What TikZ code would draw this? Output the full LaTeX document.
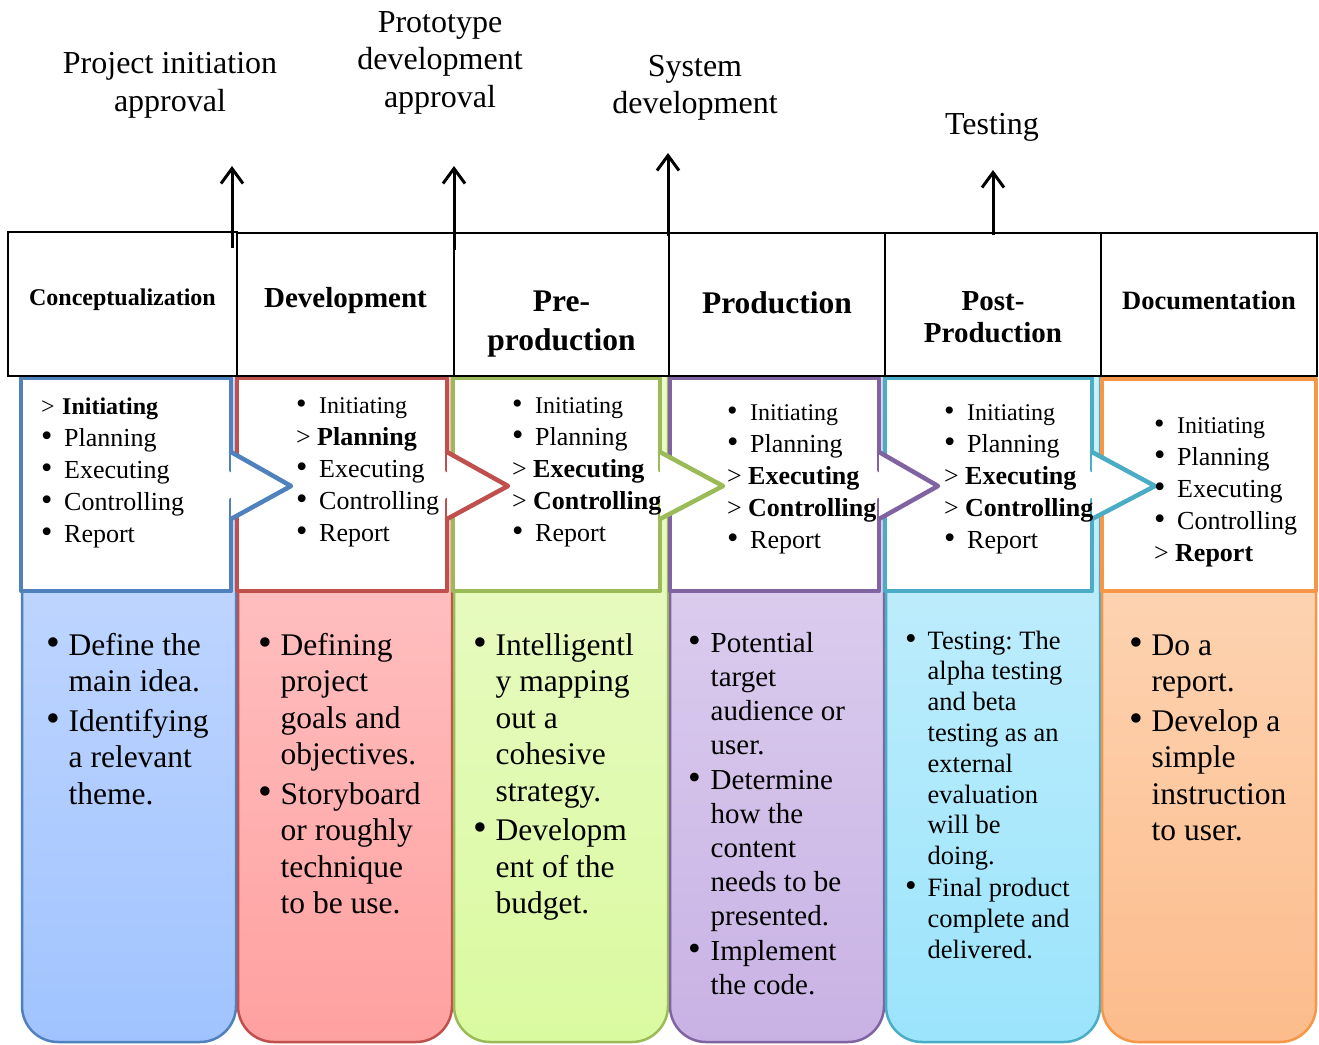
\documentclass[tikz,border=0pt]{standalone}
\usepackage{fontspec}
\setmainfont{Liberation Serif}
\usepackage{graphicx}
\usetikzlibrary{arrows.meta}

% phase colours: border, lane top, lane bottom
\definecolor{cblue}{RGB}{79,129,189}
\definecolor{cbluetop}{RGB}{204,221,255}
\definecolor{cbluebot}{RGB}{160,195,255}
\definecolor{cred}{RGB}{192,80,77}
\definecolor{credtop}{RGB}{255,205,205}
\definecolor{credbot}{RGB}{255,160,160}
\definecolor{cgreen}{RGB}{155,187,89}
\definecolor{cgreentop}{RGB}{236,250,206}
\definecolor{cgreenbot}{RGB}{218,250,160}
\definecolor{cpurple}{RGB}{128,100,162}
\definecolor{cpurpletop}{RGB}{228,216,242}
\definecolor{cpurplebot}{RGB}{200,178,228}
\definecolor{ccyan}{RGB}{75,172,198}
\definecolor{ccyantop}{RGB}{205,240,252}
\definecolor{ccyanbot}{RGB}{155,228,252}
\definecolor{corange}{RGB}{247,150,70}
\definecolor{corangetop}{RGB}{254,222,195}
\definecolor{corangebot}{RGB}{252,188,140}

\newcommand{\dotmark}{\scalebox{1.25}{\textbullet}}
\newcommand{\li}[1]{\makebox[23pt][l]{\dotmark}#1}
\newcommand{\lnow}[1]{\makebox[21pt][l]{>}\textbf{#1}}
\newcommand{\sml}[1]{{\fontsize{24}{32}\selectfont #1}}
\newcommand{\bul}{\makebox[22.5pt][l]{\dotmark}}
\newcommand{\cont}{\hspace*{22.5pt}}

\tikzset{
  lane/.style={line width=2.5pt, rounded corners=36pt},
  phase/.style={line width=4.5pt, fill=white, line cap=round, line join=round},
  head/.style={draw, fill=white, line width=1.2pt},
  % lists are placed by the baseline of their last line
  toplist/.style={align=left, anchor=base west, inner sep=0pt,
    font=\fontsize{26}{32}\selectfont},
  lanetext/.style={align=left, anchor=base west, inner sep=0pt,
    font=\fontsize{31.5}{36.5}\selectfont},
  title/.style={align=center, inner sep=0pt},
  milestone/.style={align=center, inner sep=0pt,
    font=\fontsize{32}{37.5}\selectfont},
  milearrow/.style={line width=3pt,
    -{Straight Barb[length=15pt,width=22pt]}}
}

\begin{document}
\begin{tikzpicture}[x=1pt, y=-1pt]
  \useasboundingbox (0,0) rectangle (1319,1044);
  \fill[white] (0,0) rectangle (1319,1044);

  % coloured lanes
  \foreach \xa/\xb/\col in {22/236/cblue, 238/452/cred, 454/668/cgreen,
      670/884/cpurple, 886/1100/ccyan, 1102/1316/corange}
    \draw[lane, draw=\col, top color=\col top, bottom color=\col bot]
      (\xa,370) -- (\xa,1042) -- (\xb,1042) -- (\xb,370);

  % phase boxes
  \foreach \xl/\xr/\col in {21/231/cblue, 237/447/cred, 453/660/cgreen,
      670/879/cpurple, 885/1092/ccyan}
    \draw[phase, draw=\col] (\xr,470) -- (\xr,378) -- (\xl,378)
      -- (\xl,591) -- (\xr,591) -- (\xr,500);
  \draw[phase, draw=corange] (1102,379) rectangle (1316,591);
  \foreach \xr/\tip/\col in {231/291/cblue, 447/508/cred, 660/723/cgreen,
      879/938/cpurple, 1092/1155/ccyan}
    \filldraw[phase, draw=\col] (\xr,452) -- (\tip,486) -- (\xr,519);

  % header cells
  \draw[head] (8,232) rectangle (237,376);
  \foreach \xa/\xb in {237/454, 454/669, 669/885, 885/1101, 1101/1317}
    \draw[head] (\xa,233) rectangle (\xb,376);

  \node[title, font=\bfseries\fontsize{24}{28}\selectfont] (t1) at (122.5,300) {Conceptualization};
  \node[title, font=\bfseries\fontsize{29}{34}\selectfont] (t2) at (345.5,301) {Development};
  \node[title, font=\bfseries\fontsize{31.5}{39}\selectfont] (t3) at (561.5,324) {Pre-\\production};
  \node[title, font=\bfseries\fontsize{31.5}{36}\selectfont] (t4) at (777,303) {Production};
  \node[title, font=\bfseries\fontsize{29}{32}\selectfont] (t5) at (993,317.5) {Post-\\Production};
  \node[title, font=\bfseries\fontsize{26.5}{31}\selectfont] (t6) at (1209,300) {Documentation};

  % milestones
  \foreach \x/\yb/\yt [count=\i] in {232/248/166, 454/250/166, 668/236/153, 993/235/170} {
    \coordinate (foot\i) at (\x,\yb);
    \coordinate (tip\i) at (\x,\yt);
    \draw[milearrow] (foot\i) -- (tip\i);
  }
  \node[milestone] (ms1) at (170,85.5) {Project initiation\\approval};
  \node[milestone] (ms2) at (440,62.5) {Prototype\\development\\approval};
  \node[milestone] (ms3) at (695,88) {System\\development};
  \node[milestone] (ms4) at (992,127) {Testing};

  % process groups per phase
  \node[toplist] (p1) at (41,542) {\sml{\lnow{Initiating}}\\ \li{Planning}\\
    \li{Executing}\\ \li{Controlling}\\ \li{Report}};
  \node[toplist] (p2) at (296,541) {\sml{\li{Initiating}}\\ \lnow{Planning}\\
    \li{Executing}\\ \li{Controlling}\\ \li{Report}};
  \node[toplist] (p3) at (512,541) {\sml{\li{Initiating}}\\ \li{Planning}\\
    \lnow{Executing}\\ \lnow{Controlling}\\ \li{Report}};
  \node[toplist] (p4) at (727,548) {\sml{\li{Initiating}}\\ \li{Planning}\\
    \lnow{Executing}\\ \lnow{Controlling}\\ \li{Report}};
  \node[toplist] (p5) at (944,548) {\sml{\li{Initiating}}\\ \li{Planning}\\
    \lnow{Executing}\\ \lnow{Controlling}\\ \li{Report}};
  \node[toplist] (p6) at (1154,561) {\sml{\li{Initiating}}\\ \li{Planning}\\
    \li{Executing}\\ \li{Controlling}\\ \lnow{Report}};

  % lane contents
  \node[lanetext] (d1) at (46,804) {\bul Define the\\ \cont main idea.\\[3pt]
    \bul Identifying\\ \cont a relevant\\ \cont theme.};
  \node[lanetext] (d2) at (258,913.5) {\bul Defining\\ \cont project\\ \cont goals and\\
    \cont objectives.\\[3pt] \bul Storyboard\\ \cont or roughly\\ \cont technique\\
    \cont to be use.};
  \node[lanetext] (d3) at (473,913.5) {\bul Intelligentl\\ \cont y mapping\\ \cont out a\\
    \cont cohesive\\ \cont strategy.\\[3pt] \bul Developm\\ \cont ent of the\\
    \cont budget.};
  \node[lanetext, font=\fontsize{29}{34}\selectfont] (d4) at (688,994) {\bul Potential\\
    \cont target\\ \cont audience or\\ \cont user.\\[1pt] \bul Determine\\ \cont how the\\
    \cont content\\ \cont needs to be\\ \cont presented.\\[1pt] \bul Implement\\
    \cont the code.};
  \node[lanetext, font=\fontsize{26.5}{30.8}\selectfont] (d5) at (905,958) {\bul Testing:\ The\\
    \cont alpha testing\\ \cont and beta\\ \cont testing as an\\ \cont external\\
    \cont evaluation\\ \cont will be\\ \cont doing.\\[1pt] \bul Final product\\
    \cont complete and\\ \cont delivered.};
  \node[lanetext] (d6) at (1129,840.5) {\bul Do a\\ \cont report.\\[3pt]
    \bul Develop a\\ \cont simple\\ \cont instruction\\ \cont to user.};
\end{tikzpicture}
\end{document}
